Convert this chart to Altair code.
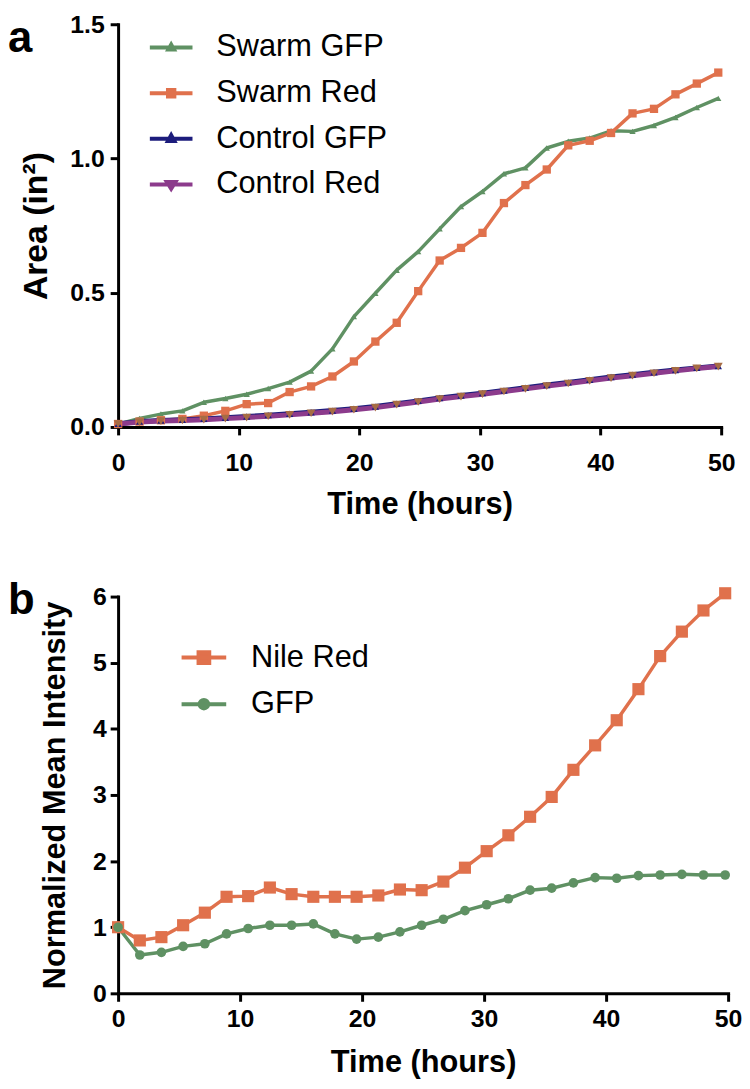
import altair as alt
import pandas as pd

FONT = "Liberation Sans"

# ---------------- data ----------------
hours = [0.0, 1.78, 3.55, 5.33, 7.11, 8.89, 10.66, 12.44, 14.22, 16.0, 17.77, 19.55,
         21.33, 23.1, 24.88, 26.66, 28.43, 30.21, 31.99, 33.77, 35.54, 37.32, 39.1,
         40.87, 42.65, 44.43, 46.21, 47.98, 49.76]

# panel a: area (in^2)
swarm_gfp = [0.010, 0.032, 0.048, 0.060, 0.092, 0.106, 0.122, 0.143, 0.167, 0.208, 0.291,
             0.411, 0.498, 0.584, 0.653, 0.738, 0.821, 0.877, 0.943, 0.965, 1.039, 1.064,
             1.076, 1.103, 1.101, 1.123, 1.153, 1.190, 1.224]
swarm_red = [0.011, 0.020, 0.025, 0.030, 0.042, 0.060, 0.085, 0.089, 0.130, 0.151, 0.188,
             0.244, 0.318, 0.388, 0.506, 0.620, 0.667, 0.723, 0.834, 0.901, 0.959, 1.049,
             1.066, 1.095, 1.168, 1.185, 1.239, 1.279, 1.320]
control_gfp = [0.012, 0.020, 0.024, 0.027, 0.030, 0.034, 0.039, 0.044, 0.049, 0.055, 0.061,
               0.068, 0.076, 0.087, 0.097, 0.108, 0.117, 0.126, 0.136, 0.146, 0.156, 0.166,
               0.176, 0.186, 0.195, 0.204, 0.212, 0.220, 0.227]
control_red = [0.011, 0.018, 0.022, 0.024, 0.027, 0.031, 0.035, 0.040, 0.045, 0.051, 0.057,
               0.064, 0.072, 0.083, 0.093, 0.104, 0.113, 0.122, 0.132, 0.142, 0.152, 0.162,
               0.172, 0.182, 0.191, 0.200, 0.209, 0.218, 0.225]

# panel b: normalized mean intensity
nile_red = [1.00, 0.80, 0.85, 1.03, 1.22, 1.46, 1.47, 1.60, 1.50, 1.46, 1.46, 1.46, 1.48,
            1.57, 1.56, 1.69, 1.90, 2.15, 2.39, 2.67, 2.97, 3.38, 3.75, 4.13, 4.60, 5.10,
            5.47, 5.79, 6.05]
gfp = [1.00, 0.58, 0.62, 0.71, 0.75, 0.90, 0.98, 1.03, 1.03, 1.05, 0.90, 0.82, 0.85,
       0.93, 1.03, 1.12, 1.25, 1.34, 1.43, 1.56, 1.59, 1.67, 1.75, 1.74, 1.78, 1.79,
       1.80, 1.79, 1.79]

x_ticks = [0, 10, 20, 30, 40, 50]
ya_ticks = [0.0, 0.5, 1.0, 1.5]
yb_ticks = [0, 1, 2, 3, 4, 5, 6]

series_a = ["Swarm GFP", "Swarm Red", "Control GFP", "Control Red"]
values_a = [swarm_gfp, swarm_red, control_gfp, control_red]
series_b = ["Nile Red", "GFP"]
values_b = [nile_red, gfp]

# ---------------- styles ----------------
GREEN = "#5f9163"
ORANGE = "#e0714c"
NAVY = "#1c1c7c"
PURPLE = "#8c3b8c"
BROWN = "#a66c44"

line_colors_a = [GREEN, ORANGE, NAVY, PURPLE]
marker_colors_a = [GREEN, ORANGE, NAVY, BROWN]
marker_shapes_a = ["triangle-up", "square", "triangle-up", "triangle-down"]
marker_sizes_a = [40, 70, 55, 80]
line_widths_a = [3.5, 3.5, 5, 5]
legend_paths_a = [
    "M-1,0L1,0M-0.13,0.09L0,-0.14L0.13,0.09Z",
    "M-1,0L1,0M-0.15,-0.15L0.15,-0.15L0.15,0.15L-0.15,0.15Z",
    "M-1,0L1,0M-0.15,0.1L0,-0.17L0.15,0.1Z",
    "M-1,0L1,0M-0.2,-0.12L0.2,-0.12L0,0.2Z",
]

line_colors_b = [ORANGE, GREEN]
marker_shapes_b = ["square", "circle"]
marker_sizes_b = [150, 95]
legend_paths_b = [
    "M-1,0L1,0M-0.24,-0.24L0.24,-0.24L0.24,0.24L-0.24,0.24Z",
    "M-1,0L1,0M0.19,0A0.19,0.19 0 1,1 -0.19,0A0.19,0.19 0 1,1 0.19,0Z",
]

df_a = pd.DataFrame({
    "hours": hours * len(series_a),
    "area": sum(values_a, []),
    "series": [s for s in series_a for _ in hours],
})
df_b = pd.DataFrame({
    "hours": hours * len(series_b),
    "intensity": sum(values_b, []),
    "series": [s for s in series_b for _ in hours],
})


def x_enc(label_pad, title_y):
    return alt.X("hours:Q", scale=alt.Scale(domain=[0, 50], nice=False, zero=False),
                 axis=alt.Axis(values=x_ticks, title="Time (hours)", labelBaseline="alphabetic",
                               labelPadding=label_pad, labelFlush=False, titleY=title_y,
                               titleBaseline="alphabetic"))


def panel_label(letter, x, y):
    return alt.Chart(alt.Data(values=[{"panel": letter}])).mark_text(
        align="left", baseline="alphabetic", font=FONT, fontSize=44, fontWeight="bold",
        color="black").encode(text="panel:N", x=alt.value(x), y=alt.value(y))


def legend(x, y, size, offset, row_pad):
    return alt.Legend(orient="none", legendX=x, legendY=y, title=None, labelFont=FONT,
                      labelFontSize=31, labelFontWeight="normal", labelColor="black",
                      labelLimit=0, symbolSize=size, symbolStrokeWidth=4, symbolOpacity=1,
                      labelOffset=offset, rowPadding=row_pad, padding=0)


# ---------------- panel a ----------------
W_A, H_A = 608, 406
xa = x_enc(36, 87)
ya = alt.Y("area:Q", scale=alt.Scale(domain=[0, 1.5], nice=False),
           axis=alt.Axis(values=ya_ticks, format=".1f", title="Area (in²)", labelPadding=6,
                         labelFlush=False, titleFontSize=34, titleAngle=270, titleX=-72,
                         titleY=H_A / 2, titleAlign="center", titleBaseline="alphabetic"))

base_a = alt.Chart(df_a)
layers_a = []
for s, c, w in zip(series_a, line_colors_a, line_widths_a):
    layers_a.append(base_a.transform_filter(alt.datum.series == s)
                    .mark_line(color=c, strokeWidth=w, strokeJoin="round")
                    .encode(x=xa, y=ya))
for s, c, sh, sz in zip(series_a, marker_colors_a, marker_shapes_a, marker_sizes_a):
    layers_a.append(base_a.transform_filter(alt.datum.series == s)
                    .mark_point(shape=sh, color=c, size=sz, filled=True, opacity=1)
                    .encode(x=xa, y=ya))

leg_a = legend(30, 0, 1849, 22, 7)
legend_layer_a = base_a.mark_point(filled=True, opacity=0, strokeWidth=4).encode(
    x=xa, y=ya,
    shape=alt.Shape("series:N", scale=alt.Scale(domain=series_a, range=legend_paths_a), legend=leg_a),
    fill=alt.Fill("series:N", scale=alt.Scale(domain=series_a, range=marker_colors_a), legend=leg_a),
    stroke=alt.Stroke("series:N", scale=alt.Scale(domain=series_a, range=line_colors_a), legend=leg_a),
)
layers_a.append(legend_layer_a)
layers_a.append(panel_label("a", -111, 28))

chart_a = alt.layer(*layers_a).properties(width=W_A, height=H_A)

# ---------------- panel b ----------------
W_B, H_B = 615, 400
xb = x_enc(25, 79)
yb = alt.Y("intensity:Q", scale=alt.Scale(domain=[0, 6], nice=False),
           axis=alt.Axis(values=yb_ticks, format="d", title="Normalized Mean Intensity",
                         labelPadding=4, labelFlush=False, titleAngle=270, titleX=-54,
                         titleY=H_B / 2, titleAlign="center", titleBaseline="alphabetic"))

base_b = alt.Chart(df_b)
layers_b = []
for s, c in zip(series_b, line_colors_b):
    layers_b.append(base_b.transform_filter(alt.datum.series == s)
                    .mark_line(color=c, strokeWidth=3.5, strokeJoin="round")
                    .encode(x=xb, y=yb))
for s, c, sh, sz in zip(series_b, line_colors_b, marker_shapes_b, marker_sizes_b):
    layers_b.append(base_b.transform_filter(alt.datum.series == s)
                    .mark_point(shape=sh, color=c, size=sz, filled=True, opacity=1)
                    .encode(x=xb, y=yb))

leg_b = legend(62, 37, 2025, 23, 7)
legend_layer_b = base_b.mark_point(filled=True, opacity=0, strokeWidth=4).encode(
    x=xb, y=yb,
    shape=alt.Shape("series:N", scale=alt.Scale(domain=series_b, range=legend_paths_b), legend=leg_b),
    fill=alt.Fill("series:N", scale=alt.Scale(domain=series_b, range=line_colors_b), legend=leg_b),
    stroke=alt.Stroke("series:N", scale=alt.Scale(domain=series_b, range=line_colors_b), legend=leg_b),
)
layers_b.append(legend_layer_b)
layers_b.append(panel_label("b", -111, 18))

chart_b = alt.layer(*layers_b).properties(width=W_B, height=H_B)

chart = alt.vconcat(chart_a, chart_b, spacing=61).resolve_scale(
    shape="independent", fill="independent", stroke="independent"
).resolve_legend(
    shape="independent", fill="independent", stroke="independent"
).properties(
    padding={"left": 0, "top": 0, "right": 0, "bottom": 0}
).configure_view(stroke=None).configure_axis(
    grid=False, domainColor="black", domainWidth=3, domainCap="square",
    tickColor="black", tickWidth=3, tickSize=8,
    labelFont=FONT, labelFontSize=25, labelFontWeight="bold", labelColor="black",
    titleFont=FONT, titleFontSize=31, titleFontWeight="bold", titleColor="black",
)

chart.save("out.html", embed_options={"renderer": "svg", "actions": False})
